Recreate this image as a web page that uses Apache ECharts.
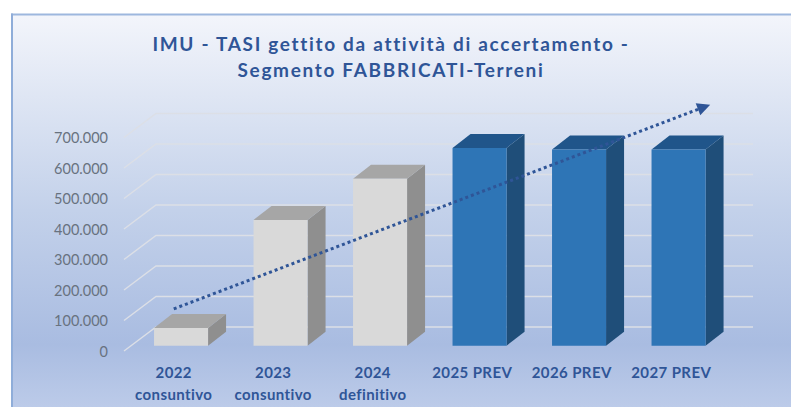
<!DOCTYPE html>
<html>
<head>
<meta charset="utf-8">
<style>
html,body{margin:0;padding:0;background:#fff}
#c{width:791px;height:407px}
svg text[style*="19px"]{letter-spacing:1.68px}
svg text[style*="15px"]{letter-spacing:0.4px}
</style>
<script src="https://cdn.jsdelivr.net/npm/echarts@6/dist/echarts.min.js"></script>
</head>
<body>
<div id="c"></div>
<script>
const titleText = 'IMU - TASI gettito da attività di accertamento -\nSegmento FABBRICATI-Terreni';
const categories = ['2022\nconsuntivo','2023\nconsuntivo','2024\ndefinitivo','2025 PREV','2026 PREV','2027 PREV'];
const values = [60000,414000,549000,650000,645000,645000];
const yTicks = [0,100000,200000,300000,400000,500000,600000,700000];
const trendX = [0,5.33];
const trendY = [138000,800000];
const actualCount = 3;

const L = 124, R = 70, T = 137.5, B = 56;
const chart = echarts.init(document.getElementById('c'), null, {renderer:'svg', width:791, height:407});
const fmt = v => String(v).replace(/\B(?=(\d{3})+$)/g,'.');
const font = 'Lato';

function renderGrid(params, api){
  const cs = params.coordSys;
  const y = api.coord([0, api.value(0)])[1];
  return {type:'polyline', silent:true, shape:{points:[[cs.x,y],[cs.x+32,y-24],[cs.x+cs.width+32,y-24]]},
    style:{fill:null, stroke:'#dcdfe6', lineWidth:1.4}};
}
function renderBar(params, api){
  const i = api.value(0);
  const top = api.coord([i, api.value(1)]);
  const base = api.coord([i, 0]);
  const w = api.size([1,0])[0]*0.543;
  const x = top[0]-w/2+7.3, y0 = base[1]-5.3, y1 = top[1]-4.8;
  const dx = 18, dy = 14;
  const grey = i < actualCount;
  return {type:'group', children:[
    {type:'polygon', shape:{points:[[x+w,y1],[x+w+dx,y1-dy],[x+w+dx,y0-dy],[x+w,y0]]}, style:{fill:grey?'#8f8f8f':'#1f4e79'}},
    {type:'polygon', shape:{points:[[x,y1],[x+dx,y1-dy],[x+w+dx,y1-dy],[x+w,y1]]}, style:{fill:grey?'#a6a6a6':'#20558a'}},
    {type:'rect', shape:{x:x,y:y1,width:w,height:y0-y1}, style:{fill:grey?'#d9d9d9':'#2e75b6'}}
  ]};
}

chart.setOption({
  animation:false,
  graphic:[
    {type:'rect', z:-10, shape:{x:11,y:14,width:780,height:393},
      style:{fill:new echarts.graphic.LinearGradient(0,0,0,1,[
        {offset:0,color:'#f3f5fb'},{offset:0.5,color:'#c3d1ea'},{offset:0.84,color:'#a9bce1'},{offset:1,color:'#bccbe9'}])}},
    {type:'rect', z:-9, shape:{x:11,y:13.5,width:780,height:2}, style:{fill:'#9db7de'}},
    {type:'rect', z:-9, shape:{x:11,y:13.5,width:2,height:394}, style:{fill:'#8fadd9'}}
  ],
  title:{text:titleText, left:386, top:25, textAlign:'center',
    textStyle:{fontFamily:font, fontWeight:'bold', fontSize:19, lineHeight:26, color:'#2f5597'}},
  grid:{left:L, right:R, top:T, bottom:B},
  xAxis:[
    {type:'category', data:categories, axisLine:{show:false}, axisTick:{show:false}, splitLine:{show:false},
      axisLabel:{interval:0, margin:9.5, fontFamily:font, fontWeight:'bold', fontSize:15, lineHeight:22, color:'#2f5597'}},
    {type:'value', min:-0.5, max:5.5, show:false}
  ],
  yAxis:{type:'value', min:0, max:700000, interval:100000, axisLine:{show:false}, axisTick:{show:false}, splitLine:{show:false},
    axisLabel:{margin:16, fontFamily:font, fontSize:14.5, color:'#68727f', formatter:fmt}},
  series:[
    {type:'custom', z:1, clip:false, silent:true, coordinateSystem:'cartesian2d', renderItem:renderGrid, data:yTicks.map(v=>[v]), encode:{y:0}},
    {type:'custom', z:2, clip:false, silent:true, renderItem:renderBar, data:values.map((v,i)=>[i,v]), encode:{x:0,y:1}},
    {type:'line', z:3, xAxisIndex:1, clip:false, silent:true,
      lineStyle:{color:'#2f5597', width:3, type:[3,3]},
      itemStyle:{color:'#2f5597'}, showSymbol:true,
      data:[
        {value:[trendX[0],trendY[0]], symbol:'none'},
        {value:[trendX[1],trendY[1]], symbol:'triangle', symbolSize:[13,13], symbolRotate:-69.4}
      ]}
  ]
});
</script>
</body>
</html>
